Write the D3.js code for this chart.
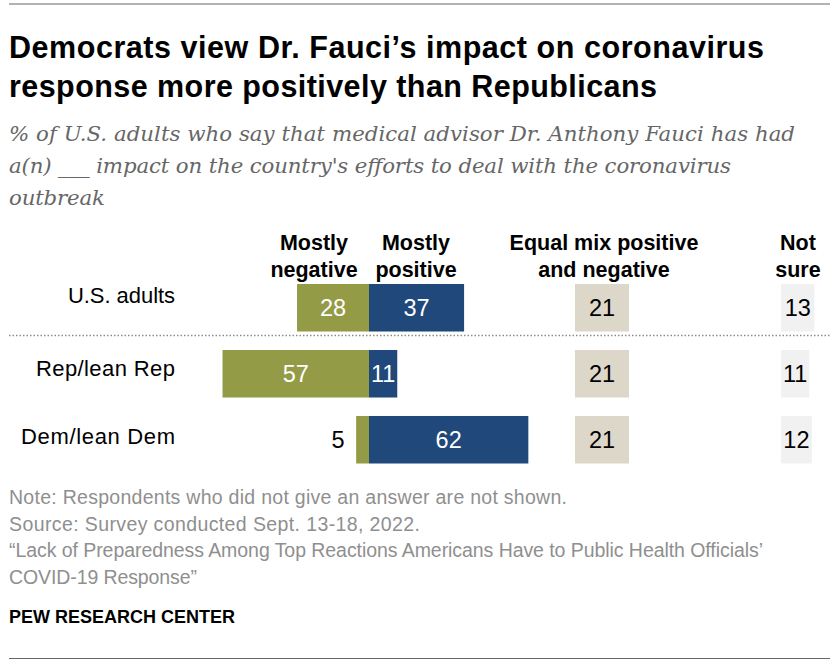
<!DOCTYPE html>
<html>
<head>
<meta charset="utf-8">
<script src="https://cdn.jsdelivr.net/npm/d3@7"></script>
<style>
  html, body { margin: 0; padding: 0; background: #fff; }
  svg { display: block; }
  .title { font-family: "Liberation Sans", sans-serif; font-weight: 700; font-size: 30.5px; fill: #000; }
  .subtitle { font-family: "DejaVu Serif", serif; font-style: italic; font-size: 21.3px; fill: #666; }
  .head { font-family: "Liberation Sans", sans-serif; font-weight: 700; font-size: 21.5px; fill: #000; text-anchor: middle; }
  .rowlabel { font-family: "Liberation Sans", sans-serif; font-size: 22px; fill: #000; text-anchor: end; }
  .val { font-family: "Liberation Sans", sans-serif; font-size: 23.5px; text-anchor: middle; }
  .note { font-family: "Liberation Sans", sans-serif; font-size: 19.5px; fill: #8f8f8f; }
  .brand { font-family: "Liberation Sans", sans-serif; font-weight: 700; font-size: 18px; fill: #000; }
</style>
</head>
<body>
<div id="chart"></div>
<script>
const W = 840, H = 664;

// data
const groups = ["U.S. adults", "Rep/lean Rep", "Dem/lean Dem"];
const negative = [28, 57, 5];
const positive = [37, 11, 62];
const equalMix = [21, 21, 21];
const notSure = [13, 11, 12];

const titleLines = ["Democrats view Dr. Fauci’s impact on coronavirus", "response more positively than Republicans"];
const subtitleLines = ["% of U.S. adults who say that medical advisor Dr. Anthony Fauci has had",
    "a(n) ___ impact on the country's efforts to deal with the coronavirus", "outbreak"];
const noteLines = ["Note: Respondents who did not give an answer are not shown.",
    "Source: Survey conducted Sept. 13-18, 2022.",
    "“Lack of Preparedness Among Top Reactions Americans Have to Public Health Officials’",
    "COVID-19 Response”"];

// line widths, the fonts here run a bit different
const titleWidths = [755, 648];
const subtitleWidths = [786, 722, 96];
const noteWidths = [558, 411, 754, 188];
const labelWidths = [107, 139, 154];

const zeroX = 369, equalX = 575, sureX = 781;
const pxPerPoint = 2.57;

var svg = d3.select("#chart").append("svg")
    .attr("width", W)
    .attr("height", H);

// length of a bar, the columns each start from their own baseline
var len = d3.scaleLinear().domain([0, 100]).range([0, 100 * pxPerPoint]);
var yScale = d3.scaleBand().domain(groups).range([284, 463.5]).paddingInner(0.28);

function lines(arr, widths, cls, x, y0, step) {
    svg.selectAll("text." + cls).data(arr).enter().append("text")
        .attr("class", cls)
        .attr("x", x)
        .attr("y", function(d, i) { return y0 + i * step; })
        .attr("textLength", function(d, i) { return widths[i]; })
        .text(function(d) { return d; });
}

// rules
svg.append("line").attr("x1", 9).attr("x2", 830).attr("y1", 4).attr("y2", 4)
    .attr("stroke", "#999").attr("stroke-width", 1.5);
svg.append("line").attr("x1", 9).attr("x2", 830).attr("y1", 658.5).attr("y2", 658.5)
    .attr("stroke", "#666").attr("stroke-width", 1);
svg.append("line").attr("x1", 9).attr("x2", 830).attr("y1", 335.5).attr("y2", 335.5)
    .attr("stroke", "#8c8c8c").attr("stroke-width", 1.5).attr("stroke-dasharray", "1.5 2");

lines(titleLines, titleWidths, "title", 9, 58, 39);
lines(subtitleLines, subtitleWidths, "subtitle", 9, 141, 32);
lines(noteLines, noteWidths, "note", 9, 504, 26.5);
svg.append("text").attr("class", "brand").attr("x", 9).attr("y", 623).text("PEW RESEARCH CENTER");

// column heads
const heads = [
    {x: 314, lines: ["Mostly", "negative"]},
    {x: 416, lines: ["Mostly", "positive"]},
    {x: 604, lines: ["Equal mix positive", "and negative"]},
    {x: 798, lines: ["Not", "sure"]}
];
heads.forEach(function(h) {
    h.lines.forEach(function(t, i) {
        svg.append("text").attr("class", "head").attr("x", h.x).attr("y", 250 + i * 27).text(t);
    });
});

// row labels sit a little above the middle of the lower bars
const labelY = [303, 376, 444];
svg.selectAll(".rowlabel").data(groups).enter().append("text")
    .attr("class", "rowlabel")
    .attr("x", 175)
    .attr("y", function(d, i) { return labelY[i]; })
    .attr("textLength", function(d, i) { return labelWidths[i]; })
    .text(function(d) { return d; });

function column(values, fill, xOf, labelColor) {
    var g = svg.append("g");
    g.selectAll("rect").data(values).enter().append("rect")
        .attr("x", function(d) { return xOf(d); })
        .attr("y", function(d, i) { return yScale(groups[i]); })
        .attr("width", function(d) { return len(d); })
        .attr("height", yScale.bandwidth())
        .attr("fill", fill);
    g.selectAll("text").data(values).enter().append("text")
        .attr("class", "val")
        .attr("x", function(d) {
            if (d < 6) return xOf(d) - 18;
            return xOf(d) + len(d) / 2;
        })
        .attr("y", function(d, i) { return yScale(groups[i]) + yScale.bandwidth() / 2 + 8; })
        .attr("fill", function(d) { return d < 6 ? "#000" : labelColor; })
        .text(function(d) { return d; });
}

column(negative, "#949b47", function(d) { return zeroX - len(d); }, "#fff");
column(positive, "#21487a", function(d) { return zeroX; }, "#fff");
column(equalMix, "#dcd7c8", function(d) { return equalX; }, "#000");
column(notSure, "#f1f1f1", function(d) { return sureX; }, "#000");
</script>
</body>
</html>
